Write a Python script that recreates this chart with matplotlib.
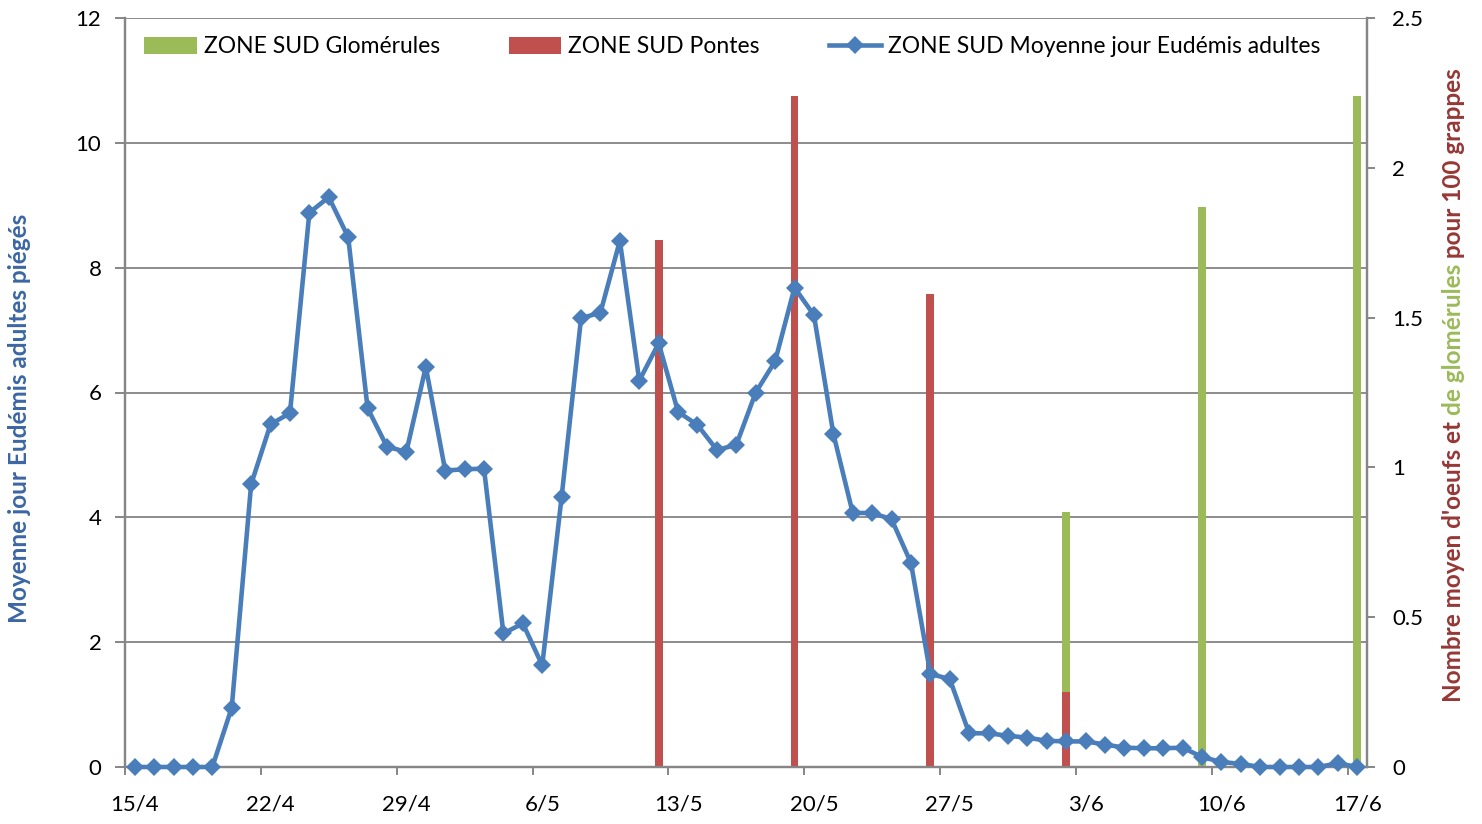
import matplotlib
matplotlib.use('Agg')
import matplotlib.pyplot as plt
import numpy as np

plt.rcParams['font.family'] = ['Lato', 'DejaVu Sans']

# day index 0 = 15/4, one point per day up to 17/6
tick_days = [0, 7, 14, 21, 28, 35, 42, 49, 56, 63]
tick_labels = ['15/4', '22/4', '29/4', '6/5', '13/5', '20/5', '27/5', '3/6', '10/6', '17/6']

adultes = [0, 0, 0, 0, 0, 0.95, 4.53, 5.49, 5.67, 8.88, 9.13, 8.49, 5.75, 5.13,
           5.05, 6.41, 4.75, 4.77, 4.78, 2.14, 2.30, 1.63, 4.33, 7.19, 7.28, 8.43,
           6.19, 6.79, 5.69, 5.48, 5.08, 5.16, 6.00, 6.50, 7.68, 7.24, 5.34, 4.07,
           4.07, 3.97, 3.27, 1.49, 1.41, 0.54, 0.54, 0.50, 0.47, 0.42, 0.41, 0.41,
           0.36, 0.31, 0.30, 0.30, 0.31, 0.16, 0.08, 0.05, 0, 0, 0, 0, 0.06, 0]

pontes_days = [27, 34, 41, 48]
pontes = [1.76, 2.24, 1.58, 0.25]
glom_days = [48, 55, 63]
glomerules = [0.85, 1.87, 2.24]

blue = '#4a7ebb'
red = '#c0504d'
green = '#9bbb59'
darkred = '#953735'
grey = '#868686'

fig = plt.figure(figsize=(14.82, 8.24), dpi=100)
ax = fig.add_axes([125 / 1482, 1 - 767 / 824, (1367 - 125) / 1482, (767 - 18) / 824])
ax2 = ax.twinx()

days = np.arange(len(adultes)) + 0.5

# bars on right axis, line drawn in ax2 but with left-axis transform so it sits on top
b_glom = ax2.bar(np.array(glom_days) + 0.5, glomerules, width=0.4, color=green, zorder=2,
                 label='ZONE SUD Glomérules')
b_pon = ax2.bar(np.array(pontes_days) + 0.5, pontes, width=0.4, color=red, zorder=2.5,
                label='ZONE SUD Pontes')
line, = ax2.plot(days, adultes, color=blue, lw=3.3, marker='D', ms=8.8, mec=blue, mew=0,
                 transform=ax.transData, zorder=3, clip_on=False,
                 label='ZONE SUD Moyenne jour Eudémis adultes')

ax.set_xlim(0, 64)
ax.set_ylim(0, 12)
ax2.set_ylim(0, 2.5)
ax2.set_xlim(0, 64)

ax.set_yticks(np.arange(0, 13, 2))
ax2.set_yticks(np.arange(0, 2.6, 0.5))
ax2.yaxis.set_major_formatter(matplotlib.ticker.FormatStrFormatter('%g'))
ax.grid(axis='y', color='#8c8c8c', lw=1.4)
ax.set_axisbelow(True)

ax.set_xticks(tick_days)
ax.set_xticklabels([])
ax.set_xticks(np.array(tick_days) + 0.5, tick_labels, minor=True)
ax.tick_params(axis='x', which='minor', length=0, pad=20, labelsize=16)
ax.tick_params(axis='x', which='major', length=6, width=1.4, color=grey)
ax.tick_params(axis='y', length=7, width=1.4, color=grey, pad=10, labelsize=16)
ax2.tick_params(axis='y', length=6, width=1.4, color=grey, pad=12, labelsize=16)

for a in (ax, ax2):
    for s in a.spines.values():
        s.set_color(grey)
        s.set_linewidth(1.6)
    a.spines['top'].set_visible(False)

ax2.legend(handles=[b_glom, b_pon, line], loc='upper center', bbox_to_anchor=(0.489, 1.0),
           ncol=3, frameon=False, fontsize=16.5, handlelength=2.3, handleheight=0.8,
           handletextpad=0.3, columnspacing=3.0, borderaxespad=0.4)

fig.text(20 / 1482, 1 - 418 / 824, 'Moyenne jour Eudémis adultes piégés', rotation=90,
         ha='center', va='center', color='#3b66a4', fontsize=17.5, fontweight='bold')

# multicolour right axis title, stacked bottom to top
parts = [("Nombre moyen d'oeufs et ", darkred), ('de glomérules', green), (' pour 100 grappes', darkred)]
fig.canvas.draw()
renderer = fig.canvas.get_renderer()
texts = []
total = 0
for s, c in parts:
    t = fig.text(0, 0, s, rotation=90, rotation_mode='anchor', ha='left', va='baseline',
                 color=c, fontsize=17.5, fontweight='bold')
    h = t.get_window_extent(renderer).height
    texts.append((t, h))
    total += h
y = (1 - 385 / 824) * fig.bbox.height - total / 2
for t, h in texts:
    t.set_position((1461 / 1482, y / fig.bbox.height))
    y += h

fig.savefig('out.png', dpi=100)
